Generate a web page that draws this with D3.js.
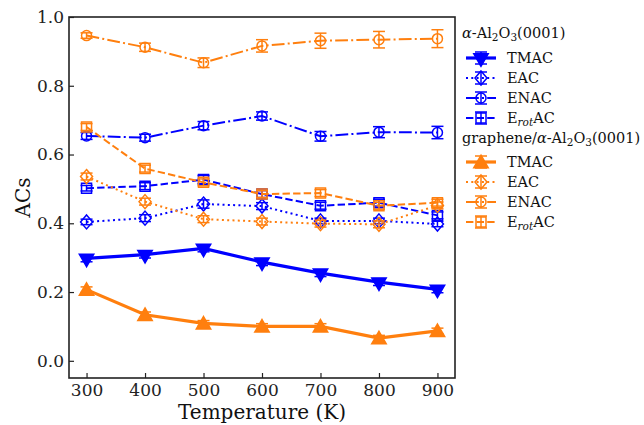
<!DOCTYPE html>
<html>
<head>
<meta charset="utf-8">
<script src="https://cdn.jsdelivr.net/npm/d3@7"></script>
<style>
  body { margin: 0; background: #fff; }
</style>
</head>
<body>
<div id="chart"></div>
<script>
// temperatures (K)
const temps = [300, 400, 500, 600, 700, 800, 900];

// alpha-Al2O3(0001)
const tmacAl  = [0.298, 0.309, 0.327, 0.287, 0.255, 0.229, 0.208];
const eacAl   = [0.404, 0.415, 0.456, 0.450, 0.407, 0.407, 0.398];
const enacAl  = [0.654, 0.649, 0.684, 0.712, 0.653, 0.665, 0.664];
const erotAl  = [0.502, 0.508, 0.527, 0.485, 0.451, 0.460, 0.423];
const tmacAlErr = [0.010, 0.010, 0.010, 0.010, 0.010, 0.010, 0.010];
const eacAlErr  = [0.008, 0.010, 0.012, 0.010, 0.008, 0.008, 0.008];
const enacAlErr = [0.010, 0.010, 0.012, 0.012, 0.014, 0.016, 0.018];
const erotAlErr = [0.008, 0.010, 0.012, 0.010, 0.010, 0.010, 0.010];

// graphene/alpha-Al2O3(0001)
const tmacGr  = [0.207, 0.134, 0.109, 0.100, 0.100, 0.066, 0.087];
const eacGr   = [0.536, 0.463, 0.412, 0.405, 0.399, 0.397, 0.452];
const enacGr  = [0.946, 0.912, 0.867, 0.916, 0.931, 0.934, 0.937];
const erotGr  = [0.680, 0.559, 0.519, 0.485, 0.488, 0.451, 0.460];
const tmacGrErr = [0.008, 0.008, 0.008, 0.008, 0.008, 0.008, 0.008];
const eacGrErr  = [0.010, 0.010, 0.010, 0.010, 0.010, 0.010, 0.010];
const enacGrErr = [0.008, 0.012, 0.014, 0.018, 0.022, 0.024, 0.026];
const erotGrErr = [0.010, 0.010, 0.010, 0.010, 0.010, 0.010, 0.010];

const xTicks = [300, 400, 500, 600, 700, 800, 900];
const yTicks = [0.0, 0.2, 0.4, 0.6, 0.8, 1.0];

const blue = "#0000ff", orange = "#ff7f0e";
const serif = "'DejaVu Serif', 'Liberation Serif', serif";

const dashes = { solid: null, dotted: "2,3.3", dashdot: "12.8,3.2,2,3.2", dashed: "7.4,3.2" };

const series = [
  { name: "TMAC", y: tmacAl, err: tmacAlErr, color: blue, dash: "solid", marker: "tridown", lw: 3.2 },
  { name: "EAC", y: eacAl, err: eacAlErr, color: blue, dash: "dotted", marker: "diamond", lw: 2 },
  { name: "ENAC", y: enacAl, err: enacAlErr, color: blue, dash: "dashdot", marker: "circle", lw: 2 },
  { name: "ErotAC", y: erotAl, err: erotAlErr, color: blue, dash: "dashed", marker: "square", lw: 2 },
  { name: "TMAC", y: tmacGr, err: tmacGrErr, color: orange, dash: "solid", marker: "triup", lw: 3.2 },
  { name: "EAC", y: eacGr, err: eacGrErr, color: orange, dash: "dotted", marker: "diamond", lw: 2 },
  { name: "ENAC", y: enacGr, err: enacGrErr, color: orange, dash: "dashdot", marker: "circle", lw: 2 },
  { name: "ErotAC", y: erotGr, err: erotGrErr, color: orange, dash: "dashed", marker: "square", lw: 2 }
];

const width = 644, height = 425;
const margin = { top: 17, right: 189, bottom: 47, left: 69 };
const iw = width - margin.left - margin.right;
const ih = height - margin.top - margin.bottom;

const svg = d3.select("#chart").append("svg")
  .attr("width", width)
  .attr("height", height)
  .attr("font-family", serif);

const x = d3.scaleLinear().domain([270, 930]).range([margin.left, margin.left + iw]);
const y = d3.scaleLinear().domain([-0.05, 1.0]).range([margin.top + ih, margin.top]);

const markerPath = {
  tridown: d3.symbol(d3.symbolTriangle, 90)(),
  triup: d3.symbol(d3.symbolTriangle, 90)(),
  diamond: "M0,-7L6,0L0,7L-6,0Z",
  circle: d3.symbol(d3.symbolCircle, Math.PI * 25)(),
  square: "M-5,-5H5V5H-5Z"
};

function drawMarker(g, m, color, cx, cy) {
  const filled = m === "tridown" || m === "triup";
  g.append("path")
    .attr("d", markerPath[m])
    .attr("transform", `translate(${cx},${cy})` + (m === "tridown" ? " rotate(180)" : "") + (m === "triup" ? " translate(0,1.5)" : ""))
    .attr("fill", filled ? color : "none")
    .attr("stroke", color)
    .attr("stroke-width", 1.5);
}

function drawErr(g, color, cx, y0, y1) {
  g.append("line").attr("x1", cx).attr("x2", cx).attr("y1", y0).attr("y2", y1)
    .attr("stroke", color).attr("stroke-width", 1.5);
  [y0, y1].forEach(v => {
    g.append("line").attr("x1", cx - 6).attr("x2", cx + 6).attr("y1", v).attr("y2", v)
      .attr("stroke", color).attr("stroke-width", 1.5);
  });
}

const plot = svg.append("g");
const line = d3.line().x((d, i) => x(temps[i])).y(d => y(d));

series.forEach(s => {
  const g = plot.append("g");
  g.append("path")
    .attr("d", line(s.y))
    .attr("fill", "none")
    .attr("stroke", s.color)
    .attr("stroke-width", s.lw)
    .attr("stroke-dasharray", dashes[s.dash]);
  s.y.forEach((v, i) => {
    drawErr(g, s.color, x(temps[i]), y(v - s.err[i]), y(v + s.err[i]));
    drawMarker(g, s.marker, s.color, x(temps[i]), y(v));
  });
});

// axes with inward ticks
const xAxis = svg.append("g")
  .attr("transform", `translate(0,${margin.top + ih})`)
  .call(d3.axisBottom(x).tickValues(xTicks).tickSizeInner(-5).tickSizeOuter(0).tickPadding(6));
const yAxis = svg.append("g")
  .attr("transform", `translate(${margin.left},0)`)
  .call(d3.axisLeft(y).tickValues(yTicks).tickFormat(d3.format(".1f")).tickSizeInner(-5).tickSizeOuter(0).tickPadding(5));

[xAxis, yAxis].forEach(a => {
  a.attr("font-family", serif);
  a.select(".domain").remove();
  a.selectAll(".tick line").attr("stroke", "#222").attr("stroke-width", 1.2);
  a.selectAll(".tick text").attr("font-size", 17).attr("fill", "#222");
});

// frame
svg.append("rect")
  .attr("x", margin.left).attr("y", margin.top)
  .attr("width", iw).attr("height", ih)
  .attr("fill", "none").attr("stroke", "#222").attr("stroke-width", 1.6);

svg.append("text")
  .attr("x", margin.left + iw / 2).attr("y", 419)
  .attr("text-anchor", "middle").attr("font-size", 20).attr("fill", "#111")
  .text("Temperature (K)");

svg.append("text")
  .attr("transform", `translate(30,${margin.top + ih / 2}) rotate(-90)`)
  .attr("text-anchor", "middle").attr("font-size", 20).attr("fill", "#111")
  .text("ACs");

// legend
const leg = svg.append("g").attr("font-size", 14.5).attr("fill", "#111");

function legendTitle(yy, prefix) {
  const t = leg.append("text").attr("x", 462).attr("y", yy).attr("dy", "0.35em");
  if (prefix) t.append("tspan").text(prefix);
  t.append("tspan").attr("font-style", "italic").text("α");
  t.append("tspan").text("-Al");
  t.append("tspan").attr("font-size", 10.5).attr("dy", 3).text("2");
  t.append("tspan").attr("dy", -3).text("O");
  t.append("tspan").attr("font-size", 10.5).attr("dy", 3).text("3");
  t.append("tspan").attr("dy", -3).text("(0001)");
}

function legendRow(s, yy) {
  const g = leg.append("g");
  g.append("line").attr("x1", 466).attr("x2", 496).attr("y1", yy).attr("y2", yy)
    .attr("stroke", s.color).attr("stroke-width", s.lw)
    .attr("stroke-dasharray", dashes[s.dash]);
  drawErr(g, s.color, 481, yy - 6, yy + 6);
  drawMarker(g, s.marker, s.color, 481, yy);
  const t = leg.append("text").attr("x", 507).attr("y", yy).attr("dy", "0.35em");
  if (s.name === "ErotAC") {
    t.append("tspan").text("E");
    t.append("tspan").attr("font-style", "italic").attr("font-size", 10.5).attr("dy", 3).text("rot");
    t.append("tspan").attr("dy", -3).text("AC");
  } else {
    t.text(s.name);
  }
}

legendTitle(33, "");
series.slice(0, 4).forEach((s, i) => legendRow(s, 58 + i * 20));
legendTitle(138, "graphene/");
series.slice(4).forEach((s, i) => legendRow(s, 162 + i * 20));
</script>
</body>
</html>
